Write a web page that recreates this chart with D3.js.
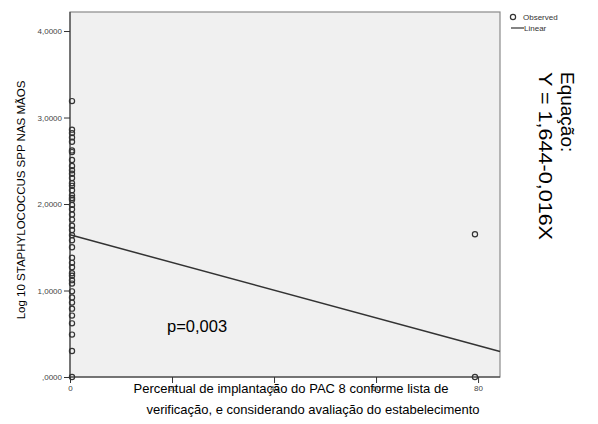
<!DOCTYPE html>
<html>
<head>
<meta charset="utf-8">
<script src="https://cdn.jsdelivr.net/npm/d3@7"></script>
<style>
body { margin: 0; background: #fff; }
text { font-family: Arial, "Liberation Sans", sans-serif; }
</style>
</head>
<body>
<script>
var svg_width  = 598;
var svg_height = 424;

// observed points: x = percentual PAC 8, y = log10 staphylococcus
var obsX = [0,0,0,0,0,0,0,0,0,0,0,0,0,0,0,0,0,0,0,0,0,0,0,0,0,0,0,0,0,0,0,0,0,0,0,0,0,0,0,0,0,0,0,79,79];
var obsY = [3.19,2.86,2.82,2.77,2.72,2.62,2.60,2.51,2.44,2.39,2.35,2.30,2.24,2.21,2.16,2.10,2.07,2.05,1.99,1.94,
            1.88,1.82,1.75,1.70,1.64,1.58,1.50,1.38,1.32,1.27,1.20,1.17,1.12,1.08,0.99,0.92,0.86,0.79,0.71,0.62,
            0.49,0.30,0,1.65,0];
var intercept = 1.644;
var slope = -0.016;
var xTicks = [0, 20, 40, 60, 80];
var yTicks = [0, 1, 2, 3, 4];

var svg = d3.select('body').append('svg')
            .attr('width', svg_width)
            .attr('height', svg_height);

var pLeft = 70, pRight = 500, pTop = 12, pBottom = 377;

var x = d3.scaleLinear().domain([0, 84.3]).range([pLeft, pRight]);
var y = d3.scaleLinear().domain([0, 4.22]).range([pBottom, pTop]);

svg.append("rect")
   .attr("x", pLeft).attr("y", pTop)
   .attr("width", pRight - pLeft).attr("height", pBottom - pTop)
   .attr("fill", "#f0f0f0")
   .attr("stroke", "#8a8a8a")
   .attr("stroke-width", 1.2);

var fmt = function(d) { return d === 0 ? ",0000" : d3.format(".4f")(d).replace(".", ","); };

var yAxis = svg.append("g")
   .attr("transform", "translate(" + pLeft + ",0)")
   .call(d3.axisLeft(y).tickValues(yTicks).tickSize(6).tickPadding(2).tickFormat(fmt));
yAxis.select(".domain").attr("stroke", "#333").attr("d", "M0," + pTop + "V" + pBottom);
yAxis.selectAll(".tick line").attr("stroke", "#333");
yAxis.selectAll(".tick text").attr("fill", "#444").style("font-size", "8px");

var xAxis = svg.append("g")
   .attr("transform", "translate(0," + pBottom + ")")
   .call(d3.axisBottom(x).tickValues(xTicks).tickSize(6).tickPadding(2));
xAxis.select(".domain").attr("stroke", "#333").attr("d", "M" + pLeft + ",0H" + pRight);
xAxis.selectAll(".tick line").attr("stroke", "#333");
xAxis.selectAll(".tick text").attr("fill", "#444").style("font-size", "8px");

// regression line
svg.append("line")
   .attr("x1", x(0)).attr("y1", y(intercept))
   .attr("x2", x(84.3)).attr("y2", y(intercept + slope * 84.3))
   .attr("stroke", "#333")
   .attr("stroke-width", 1.5);

svg.append("g")
   .selectAll("circle")
   .data(obsX.map(function(d, i) { return [d, obsY[i]]; }))
   .enter().append("circle")
   .attr("cx", function(d) { return x(d[0]) + 2; })
   .attr("cy", function(d) { return y(d[1]); })
   .attr("r", 2.6)
   .attr("fill", "none")
   .attr("stroke", "#333")
   .attr("stroke-width", 1.2);

svg.append("text")
   .attr("x", 167).attr("y", 332)
   .style("font-size", "16.5px")
   .text("p=0,003");

// axis titles
svg.append("text")
   .attr("x", 291).attr("y", 393)
   .attr("text-anchor", "middle")
   .style("font-size", "13px")
   .text("Percentual de implantação do PAC 8 conforme lista de");
svg.append("text")
   .attr("x", 313).attr("y", 414)
   .attr("text-anchor", "middle")
   .style("font-size", "13px")
   .text("verificação, e considerando avaliação do estabelecimento");

svg.append("text")
   .attr("transform", "translate(25,200) rotate(-90)")
   .attr("text-anchor", "middle")
   .style("font-size", "11.5px")
   .text("Log 10 STAPHYLOCOCCUS SPP NAS MÃOS");

// legend
svg.append("circle")
   .attr("cx", 513).attr("cy", 17).attr("r", 2.6)
   .attr("fill", "none").attr("stroke", "#333").attr("stroke-width", 1.2);
svg.append("text").attr("x", 523).attr("y", 20).style("font-size", "8px").attr("fill", "#333").text("Observed");
svg.append("line")
   .attr("x1", 511).attr("x2", 524).attr("y1", 28).attr("y2", 28)
   .attr("stroke", "#333").attr("stroke-width", 1.2);
svg.append("text").attr("x", 524).attr("y", 31).style("font-size", "8px").attr("fill", "#333").text("Linear");

// equation
svg.append("text")
   .attr("transform", "translate(561,72) rotate(90)")
   .style("font-size", "19px")
   .text("Equação:");
svg.append("text")
   .attr("transform", "translate(539,72) rotate(90)")
   .style("font-size", "19px")
   .attr("textLength", 168)
   .attr("lengthAdjust", "spacingAndGlyphs")
   .text("Y = 1,644-0,016X");
</script>
</body>
</html>
